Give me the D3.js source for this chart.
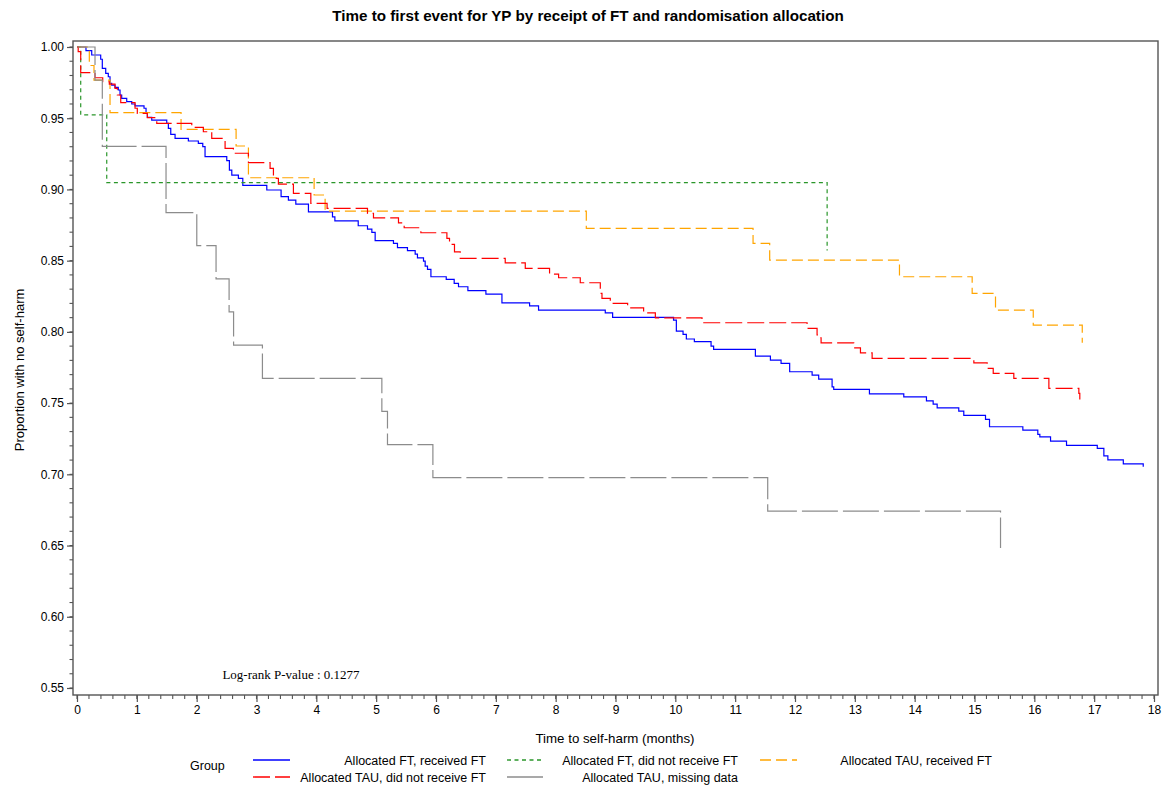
<!DOCTYPE html>
<html>
<head>
<meta charset="utf-8">
<script src="https://cdn.jsdelivr.net/npm/d3@7"></script>
<style>
  html, body { margin: 0; padding: 0; background: #fff; }
  svg { display: block; }
</style>
</head>
<body>
<svg id="chart" width="1163" height="787"></svg>
<script>
// ---------------- DATA ----------------
const title = "Time to first event for YP by receipt of FT and randomisation allocation";
const xTicks = [0,1,2,3,4,5,6,7,8,9,10,11,12,13,14,15,16,17,18];
const yTicks = [0.55,0.60,0.65,0.70,0.75,0.80,0.85,0.90,0.95,1.00];

const groupNames = [
  "Allocated FT, received FT",
  "Allocated FT, did not receive FT",
  "Allocated TAU, received FT",
  "Allocated TAU, did not receive FT",
  "Allocated TAU, missing data"
];

// Allocated FT, received FT
const ftRecTime = [0,0.15,0.246,0.396,0.423,0.48,0.523,0.552,0.58,0.635,0.69,0.719,0.747,0.831,0.915,0.97,1.12,1.154,1.176,1.249,1.5,1.527,1.567,1.639,1.861,2.028,2.102,2.14,2.503,2.547,2.587,2.697,2.771,3.172,3.411,3.533,3.657,3.868,4.27,4.31,4.70,4.855,4.928,4.983,5.289,5.356,5.523,5.652,5.69,5.791,5.819,5.858,5.915,6.171,6.304,6.376,6.533,6.834,7.102,7.564,7.714,8.829,8.952,9.97,10.017,10.129,10.184,10.318,10.597,10.64,11.338,11.589,11.767,11.911,12.286,12.396,12.62,12.647,13.244,13.818,14.197,14.309,14.376,14.737,14.821,15.184,15.251,15.808,16.058,16.092,16.271,16.538,17.052,17.162,17.229,17.487,17.82];
const ftRecSurv = [1,0.9974,0.9944,0.9914,0.985,0.9815,0.9791,0.9745,0.9733,0.9717,0.9698,0.9663,0.964,0.9616,0.96,0.9586,0.957,0.9534,0.9506,0.9487,0.9464,0.9429,0.9387,0.9359,0.934,0.9324,0.93,0.923,0.9202,0.9136,0.9101,0.9078,0.9029,0.8996,0.8949,0.8925,0.8897,0.8843,0.8808,0.878,0.8745,0.8722,0.8699,0.864,0.8621,0.8591,0.857,0.8546,0.852,0.8497,0.8462,0.8439,0.8387,0.8369,0.834,0.8317,0.8289,0.8265,0.8204,0.8183,0.8153,0.8134,0.8102,0.8083,0.8006,0.7982,0.795,0.7931,0.79,0.7877,0.783,0.7802,0.7779,0.772,0.7697,0.7669,0.7614,0.7596,0.7565,0.7544,0.7516,0.7493,0.7467,0.7444,0.7414,0.7386,0.7334,0.731,0.728,0.7263,0.7233,0.7203,0.7182,0.713,0.7101,0.7074,0.7053];

// Allocated FT, did not receive FT
const ftNotTime = [0,0.062,0.497,12.537];
const ftNotSurv = [1,0.9524,0.9048,0.8571];

// Allocated TAU, received FT
const tauRecTime = [0,0.206,0.284,0.552,1.739,2.659,2.865,3.963,4.147,8.512,11.299,11.577,13.746,14.961,15.351,15.982,16.801];
const tauRecSurv = [1,0.987,0.9768,0.9539,0.9422,0.9305,0.9082,0.8961,0.8848,0.8727,0.8621,0.8504,0.8387,0.827,0.8153,0.8048,0.7923];

// Allocated TAU, did not receive FT
const tauNotTime = [0,0.02,0.062,0.301,0.43,0.54,0.635,0.674,0.731,0.97,1.008,1.176,1.333,1.918,2.112,2.252,2.475,2.614,2.865,3.227,3.283,3.366,3.617,3.908,4.18,4.855,4.955,5.373,5.468,5.747,6.182,6.226,6.309,6.405,7.157,7.492,7.898,8.049,8.411,8.746,8.774,8.913,9.203,9.47,9.666,10.446,12.202,12.369,12.413,12.436,12.982,13.094,13.289,14.989,15.212,15.313,15.657,16.243,16.744,16.76];
const tauNotSurv = [1,0.9967,0.982,0.9784,0.9756,0.974,0.971,0.9663,0.9609,0.957,0.9534,0.9504,0.9464,0.9436,0.9405,0.9359,0.9289,0.9254,0.9188,0.9148,0.9078,0.9038,0.8973,0.8902,0.8867,0.8832,0.8801,0.8766,0.8731,0.8696,0.8657,0.8614,0.8562,0.8516,0.8485,0.8446,0.8406,0.838,0.8345,0.827,0.8235,0.82,0.8169,0.8134,0.8099,0.8064,0.8024,0.7978,0.7959,0.7923,0.7888,0.7853,0.7814,0.7783,0.7744,0.7709,0.7674,0.7603,0.7568,0.7526];

// Allocated TAU, missing data
const tauMisTime = [0,0.301,0.423,1.488,2.002,2.324,2.542,2.617,3.099,5.095,5.189,5.948,11.544,15.435];
const tauMisSurv = [1,0.9768,0.9302,0.8837,0.8605,0.8372,0.8140,0.7907,0.7674,0.7442,0.7209,0.6977,0.6742,0.6482];

const pValueText = "Log-rank P-value : 0.1277";

// ---------------- STYLES ----------------
const series = [
  {name: groupNames[0], t: ftRecTime,  s: ftRecSurv,  color: "#0000ff", dash: null},
  {name: groupNames[1], t: ftNotTime,  s: ftNotSurv,  color: "#2a962a", dash: "4,3.5"},
  {name: groupNames[2], t: tauRecTime, s: tauRecSurv, color: "#ffa500", dash: "11,5"},
  {name: groupNames[3], t: tauNotTime, s: tauNotSurv, color: "#ff0000", dash: "17,5"},
  {name: groupNames[4], t: tauMisTime, s: tauMisSurv, color: "#8c8c8c", dash: "36,5"}
];

const svg = d3.select("#chart");
const font = "'Liberation Sans', Arial, sans-serif";

const x = d3.scaleLinear().domain([0, 18]).range([77, 1154]);
const y = d3.scaleLinear().domain([0.55, 1.00]).range([688, 47]);

const frame = {left: 73, right: 1158, top: 41, bottom: 695};
const axisColor = "#555";

// Title
svg.append("text")
  .attr("x", 588).attr("y", 21)
  .attr("text-anchor", "middle")
  .attr("font-family", font).attr("font-weight", "bold").attr("font-size", 15.2)
  .attr("fill", "#000")
  .text(title);

// Frame
svg.append("rect")
  .attr("x", frame.left).attr("y", frame.top)
  .attr("width", frame.right - frame.left).attr("height", frame.bottom - frame.top)
  .attr("fill", "none").attr("stroke", axisColor).attr("stroke-width", 1.4);

// Y axis
const yAxis = d3.axisLeft(y).tickValues(yTicks).tickFormat(d3.format(".2f")).tickSize(6).tickPadding(3);
const gy = svg.append("g").attr("transform", `translate(${frame.left},0)`).call(yAxis);
gy.select(".domain").remove();
gy.selectAll(".tick line").attr("stroke", axisColor).attr("stroke-width", 1.2);
gy.selectAll(".tick text").attr("font-family", font).attr("font-size", 12).attr("fill", "#000");
const yMinor = d3.range(55, 101).map(v => v / 100);
svg.append("g").selectAll("line").data(yMinor).join("line")
  .attr("x1", frame.left - 3.5).attr("x2", frame.left)
  .attr("y1", d => y(d)).attr("y2", d => y(d))
  .attr("stroke", axisColor).attr("stroke-width", 1.1);

// X axis
const xAxis = d3.axisBottom(x).tickValues(xTicks).tickFormat(d3.format("d")).tickSize(7).tickPadding(3);
const gx = svg.append("g").attr("transform", `translate(0,${frame.bottom})`).call(xAxis);
gx.select(".domain").remove();
gx.selectAll(".tick line").attr("stroke", axisColor).attr("stroke-width", 1.2);
gx.selectAll(".tick text").attr("font-family", font).attr("font-size", 12).attr("fill", "#000");
const xMinor = d3.range(0, 91).map(v => v / 5);
svg.append("g").selectAll("line").data(xMinor).join("line")
  .attr("x1", d => x(d)).attr("x2", d => x(d))
  .attr("y1", frame.bottom).attr("y2", frame.bottom + 4)
  .attr("stroke", axisColor).attr("stroke-width", 1.1);

// Axis labels
svg.append("text")
  .attr("x", 615).attr("y", 743)
  .attr("text-anchor", "middle")
  .attr("font-family", font).attr("font-size", 13.3).attr("fill", "#000")
  .text("Time to self-harm (months)");
svg.append("text")
  .attr("transform", "translate(24,370) rotate(-90)")
  .attr("text-anchor", "middle")
  .attr("font-family", font).attr("font-size", 13).attr("fill", "#000")
  .text("Proportion with no self-harm");

// Curves
const line = d3.line()
  .x(d => x(d[0])).y(d => y(d[1]))
  .curve(d3.curveStepAfter);
const gCurves = svg.append("g");
series.forEach(sr => {
  const pts = sr.t.map((t, i) => [t, sr.s[i]]);
  gCurves.append("path")
    .attr("d", line(pts))
    .attr("fill", "none")
    .attr("stroke", sr.color)
    .attr("stroke-width", 1.2)
    .attr("stroke-dasharray", sr.dash);
});

// P-value note
svg.append("text")
  .attr("x", x(2.43)).attr("y", 679)
  .attr("font-family", "'Liberation Serif', 'Times New Roman', serif")
  .attr("font-size", 13).attr("fill", "#000")
  .text(pValueText);

// Legend
svg.append("text")
  .attr("x", 190).attr("y", 770)
  .attr("font-family", font).attr("font-size", 12.5).attr("fill", "#000")
  .text("Group");
const legendPos = [
  {col: 0, row: 0}, {col: 1, row: 0}, {col: 2, row: 0},
  {col: 0, row: 1}, {col: 1, row: 1}
];
const colX = [253, 507, 760];
const colTextEnd = [486, 738, 992];
const rowY = [760, 777];
series.forEach((sr, i) => {
  const p = legendPos[i];
  const ly = rowY[p.row];
  svg.append("line")
    .attr("x1", colX[p.col]).attr("x2", colX[p.col] + 37)
    .attr("y1", ly).attr("y2", ly)
    .attr("stroke", sr.color).attr("stroke-width", 1.4)
    .attr("stroke-dasharray", sr.dash);
  svg.append("text")
    .attr("x", colTextEnd[p.col]).attr("y", ly + 4.5)
    .attr("text-anchor", "end")
    .attr("font-family", font).attr("font-size", 12.5).attr("fill", "#000")
    .text(sr.name);
});
</script>
</body>
</html>
